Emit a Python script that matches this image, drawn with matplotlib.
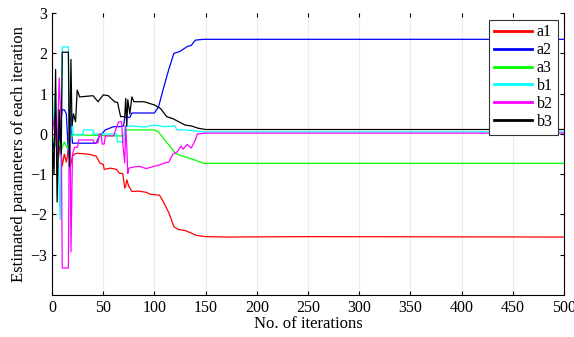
import matplotlib.pyplot as plt

plt.rcParams['font.family'] = ['Liberation Serif', 'DejaVu Serif']

# breakpoints (iteration, value)
a1_it = [0, 2, 4, 6, 8, 10, 12, 14, 16, 18, 20, 22, 25, 35, 43, 47, 50, 51, 57, 63, 66, 69, 71, 72, 73, 75, 78, 85, 92, 96, 105, 109, 114, 119, 123, 130, 135, 141, 150, 170, 250, 500]
a1_v = [0, -0.3, 0.3, -0.7, -0.2, -0.8, -0.5, -0.7, -0.4, -0.8, -0.55, -0.5, -0.48, -0.5, -0.55, -0.73, -0.75, -0.88, -0.85, -0.88, -0.98, -0.98, -1.34, -1.3, -1.14, -1.3, -1.43, -1.42, -1.45, -1.5, -1.52, -1.7, -1.95, -2.3, -2.37, -2.4, -2.45, -2.52, -2.55, -2.56, -2.55, -2.56]

a2_it = [0, 2, 4, 6, 8, 10, 12, 14, 16, 18, 20, 25, 43, 46, 52, 60, 66, 70, 71, 76, 78, 100, 104, 109, 114, 119, 125, 132, 136, 140, 148, 500]
a2_v = [0, -0.4, 0.3, -0.6, 0.2, 0.6, 0.6, 0.5, -0.5, 0.4, -0.23, -0.23, -0.23, -0.07, 0.1, 0.18, 0.18, 0.2, 0.41, 0.41, 0.52, 0.52, 0.67, 1.15, 1.6, 2.0, 2.05, 2.17, 2.2, 2.33, 2.35, 2.35]

a3_it = [0, 3, 6, 9, 12, 15, 18, 20, 66, 70, 72, 100, 104, 109, 115, 121, 130, 141, 148, 500]
a3_v = [0, -0.3, -0.1, -0.4, -0.2, -0.35, -0.1, -0.02, -0.05, -0.05, 0.1, 0.1, 0.05, -0.12, -0.3, -0.49, -0.57, -0.66, -0.73, -0.73]

b1_it = [0, 3, 6, 8, 10, 16, 17, 19, 21, 30, 31, 40, 41, 63, 64, 70, 71, 78, 90, 100, 110, 120, 122, 130, 140, 150, 500]
b1_v = [0, 1.0, -0.5, -2.13, 2.16, 2.16, -1.0, 0.5, -0.02, -0.02, 0.1, 0.1, 0.0, 0.0, -0.2, -0.2, 0.18, 0.2, 0.17, 0.22, 0.18, 0.2, 0.1, 0.1, 0.07, 0.05, 0.05]

b2_it = [0, 3, 5, 7, 9, 10, 16, 17, 18, 18.5, 20, 22, 25, 26, 40, 41, 45, 46, 48, 49, 51, 52, 60, 65, 68, 69, 71, 72, 73, 74, 75, 78, 85, 92, 100, 104, 110, 114, 118, 122, 126, 128, 132, 136, 140, 142, 150, 500]
b2_v = [0, 0.5, -0.5, 1.39, 0.2, -3.33, -3.33, 0.6, -1.0, -2.93, -0.5, -0.33, -0.33, -0.15, -0.15, -0.22, -0.22, 0.0, 0.0, -0.25, -0.25, -0.05, -0.05, 0.3, 0.3, -0.2, -0.72, 0.2, -0.3, -0.98, -0.85, -0.83, -0.8, -0.86, -0.8, -0.78, -0.72, -0.7, -0.5, -0.45, -0.3, -0.38, -0.26, -0.35, -0.15, 0.0, 0.02, 0.02]

b3_it = [0, 2, 3.5, 5, 7, 9, 10, 16, 17, 18.5, 19.5, 21, 23, 24.6, 27, 40, 45, 50, 55, 61, 64, 67, 71, 72, 73, 74, 76, 78, 80, 90, 100, 106, 112, 118, 124, 130, 136, 143, 150, 500]
b3_v = [0, -1.0, 1.6, -1.69, 0.6, -0.5, 2.03, 2.03, -0.8, 1.85, 0.2, 0.5, 0.3, 1.09, 0.92, 0.95, 0.8, 0.97, 0.95, 0.8, 0.78, 0.43, 0.43, 0.88, 0.2, 0.85, 0.5, 0.92, 0.8, 0.8, 0.72, 0.63, 0.43, 0.38, 0.3, 0.22, 0.2, 0.14, 0.11, 0.11]

series = [
    ('a1', a1_it, a1_v, '#ff0000'),
    ('a2', a2_it, a2_v, '#0000ff'),
    ('a3', a3_it, a3_v, '#00ff00'),
    ('b1', b1_it, b1_v, '#00ffff'),
    ('b2', b2_it, b2_v, '#ff00ff'),
    ('b3', b3_it, b3_v, '#000000'),
]

fig = plt.figure(figsize=(5.74, 3.37), dpi=100)
ax = fig.add_axes([0.0906, 0.1246, 0.892, 0.8364])

for name, it, v, c in series:
    ax.plot(it, v, color=c, lw=0.9, label=name)

ax.set_xlim(0, 500)
ax.set_ylim(-4, 3)
ax.set_xticks(range(0, 501, 50))
ax.set_yticks(range(-3, 4))
ax.xaxis.grid(True, color='#ebebeb', lw=0.8)
ax.set_axisbelow(True)
ax.tick_params(direction='in', top=True, right=True, labelsize=11.5, length=3)
ax.spines['top'].set_visible(False)
for s in ['left', 'bottom', 'right']:
    ax.spines[s].set_linewidth(0.8)

ax.set_xlabel('No. of iterations', fontsize=12, labelpad=0)
ax.set_ylabel('Estimated parameters of each iteration', fontsize=12, labelpad=2)

leg = ax.legend(loc='upper right', fontsize=11.5, handlelength=2.4, handletextpad=0.3,
                labelspacing=0.12, borderpad=0.3, borderaxespad=0.4, fancybox=False,
                framealpha=1, edgecolor='#333333', bbox_to_anchor=(1.0, 1.0))
for line in leg.get_lines():
    line.set_linewidth(2)
leg.get_frame().set_linewidth(0.8)

fig.savefig('out.png', dpi=100)
